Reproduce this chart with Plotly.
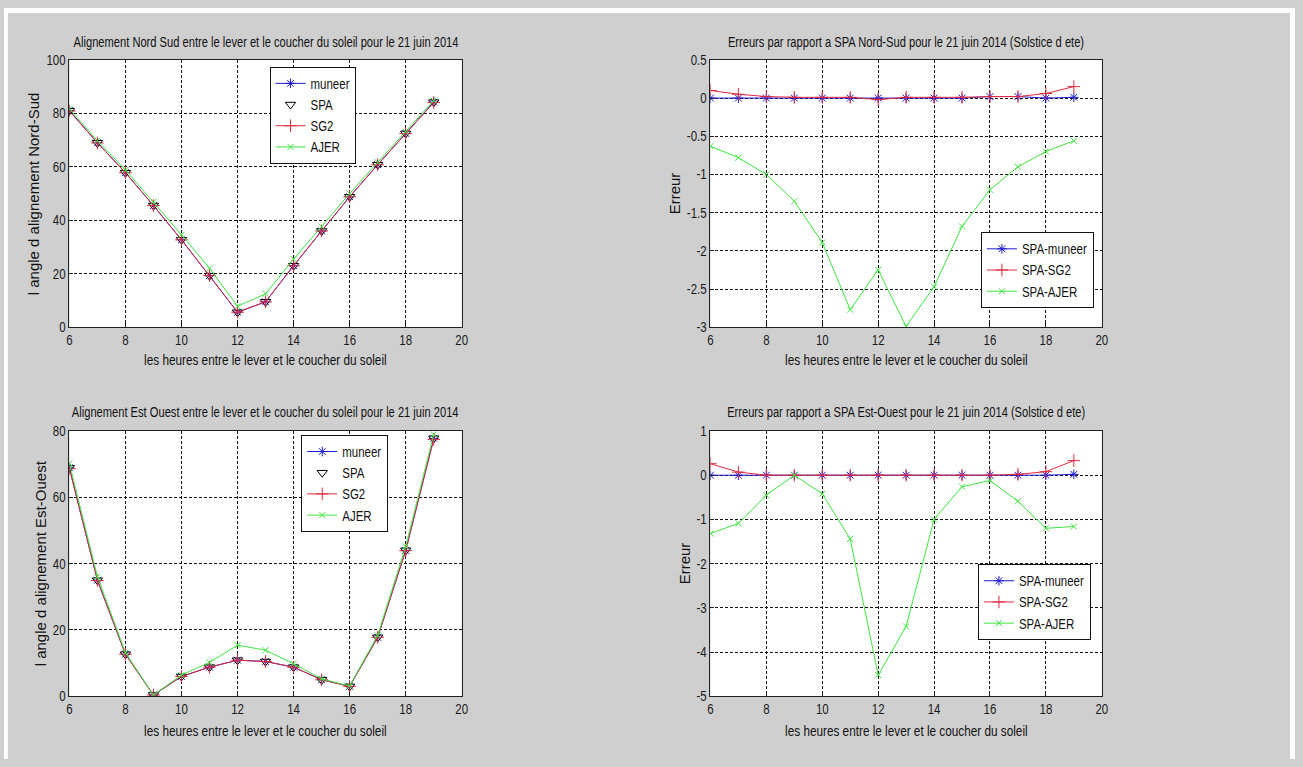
import plotly.graph_objects as go

W, H = 1303, 767

hours = [6, 7, 8, 9, 10, 11, 12, 13, 14, 15, 16, 17, 18, 19]

# --- Nord-Sud alignment (degrees)
ns_spa    = [81.0, 69.0, 57.8, 45.5, 32.7, 19.3, 5.6, 9.5, 23.0, 36.0, 48.8, 60.8, 72.5, 84.2]
ns_muneer = [81.0, 69.0, 57.8, 45.5, 32.7, 19.3, 5.6, 9.5, 23.0, 36.0, 48.8, 60.8, 72.5, 84.2]
ns_sg2    = [80.9, 68.95, 57.78, 45.49, 32.69, 19.29, 5.62, 9.49, 22.99, 35.99, 48.78, 60.78, 72.44, 84.05]
ns_ajer   = [81.63, 69.78, 58.8, 46.85, 34.59, 22.07, 7.85, 12.49, 25.47, 37.68, 50.0, 61.7, 73.2, 84.76]

# --- Errors Nord-Sud
ns_err_muneer = [0.0, 0.0, 0.0, 0.0, 0.0, 0.0, 0.0, 0.0, 0.0, 0.0, 0.02, 0.02, 0.0, 0.01]
ns_err_sg2    = [0.10, 0.05, 0.02, 0.01, 0.01, 0.01, -0.02, 0.01, 0.01, 0.01, 0.02, 0.02, 0.06, 0.15]
ns_err_ajer   = [-0.63, -0.78, -1.0, -1.35, -1.89, -2.77, -2.25, -2.99, -2.47, -1.68, -1.2, -0.9, -0.7, -0.56]

# --- Est-Ouest alignment (degrees)
eo_spa    = [68.9, 35.0, 12.7, 0.4, 6.0, 8.8, 10.9, 10.5, 8.8, 5.0, 3.0, 17.8, 44.0, 77.8]
eo_muneer = [68.9, 35.0, 12.7, 0.4, 6.0, 8.8, 10.9, 10.5, 8.8, 5.0, 3.0, 17.8, 44.0, 77.78]
eo_sg2    = [68.64, 34.93, 12.7, 0.4, 6.0, 8.8, 10.9, 10.5, 8.8, 5.0, 3.0, 17.78, 43.92, 77.47]
eo_ajer   = [70.22, 36.09, 13.15, 0.4, 6.42, 10.24, 15.42, 13.92, 9.8, 5.26, 3.12, 18.39, 45.2, 78.96]

# --- Errors Est-Ouest
eo_err_muneer = [0.0, 0.0, 0.0, 0.0, 0.0, 0.0, 0.0, 0.0, 0.0, 0.0, 0.0, 0.0, 0.0, 0.02]
eo_err_sg2    = [0.26, 0.07, 0.0, 0.0, 0.0, 0.0, 0.0, 0.0, 0.0, 0.0, 0.0, 0.02, 0.08, 0.33]
eo_err_ajer   = [-1.32, -1.09, -0.45, 0.0, -0.42, -1.44, -4.52, -3.42, -1.0, -0.26, -0.12, -0.59, -1.2, -1.16]

x_ticks = [6, 8, 10, 12, 14, 16, 18, 20]
y1_ticks = [0, 20, 40, 60, 80, 100]
y2_ticks = [-3, -2.5, -2, -1.5, -1, -0.5, 0, 0.5]
y2_text = ["-3", "-2.5", "-2", "-1.5", "-1", "-0.5", "0", "0.5"]
y3_ticks = [0, 20, 40, 60, 80]
y4_ticks = [-5, -4, -3, -2, -1, 0, 1]
y4_text = ["-5", "-4", "-3", "-2", "-1", "0", "1"]

titles = [
    "Alignement Nord Sud entre le lever et le coucher du soleil pour le 21 juin 2014",
    "Erreurs par rapport a SPA Nord-Sud pour le 21 juin 2014 (Solstice d ete)",
    "Alignement Est Ouest entre le lever et le coucher du soleil pour le 21 juin 2014",
    "Erreurs par rapport a SPA Est-Ouest pour le 21 juin 2014 (Solstice d ete)",
]
xlabel = "les heures entre le lever et le coucher du soleil"
ylabels = ["l angle d alignement Nord-Sud", "Erreur", "l angle d alignement Est-Ouest", "Erreur"]

BLUE = "#1c1cd0"
RED = "#e02a40"
GREEN = "#40e440"
FONT = "Liberation Sans, Arial, sans-serif"

def px(x):
    return x / W

def py(y):
    return 1 - y / H

# axis rectangles in pixels: (left, right, top, bottom)
boxes = [(66, 462, 53, 326), (713, 1108, 53, 326), (66, 462, 432, 703), (713, 1108, 432, 703)]

fig = go.Figure()

def line_tr(x, y, name, color, symbol, size, ax, legend, mode="lines+markers"):
    return go.Scatter(
        x=x, y=y, name=name, mode=mode,
        line=dict(color=color, width=1),
        marker=dict(symbol=symbol, size=size, color=color, line=dict(color=color, width=1)),
        xaxis="x" + ax, yaxis="y" + ax, legend=legend,
    )

# panel 1
fig.add_trace(line_tr(hours, ns_muneer, "muneer", BLUE, "asterisk-open", 8, "", "legend"))
fig.add_trace(line_tr(hours, ns_spa, "SPA", "black", "triangle-down-open", 9, "", "legend", mode="markers"))
fig.add_trace(line_tr(hours, ns_sg2, "SG2", RED, "cross-thin-open", 9, "", "legend"))
fig.add_trace(line_tr(hours, ns_ajer, "AJER", GREEN, "x-thin-open", 6, "", "legend"))
# panel 2
fig.add_trace(line_tr(hours, ns_err_muneer, "SPA-muneer", BLUE, "asterisk-open", 8, "2", "legend2"))
fig.add_trace(line_tr(hours, ns_err_sg2, "SPA-SG2", RED, "cross-thin-open", 9, "2", "legend2"))
fig.add_trace(line_tr(hours, ns_err_ajer, "SPA-AJER", GREEN, "x-thin-open", 6, "2", "legend2"))
# panel 3
fig.add_trace(line_tr(hours, eo_muneer, "muneer", BLUE, "asterisk-open", 8, "3", "legend3"))
fig.add_trace(line_tr(hours, eo_spa, "SPA", "black", "triangle-down-open", 9, "3", "legend3", mode="markers"))
fig.add_trace(line_tr(hours, eo_sg2, "SG2", RED, "cross-thin-open", 9, "3", "legend3"))
fig.add_trace(line_tr(hours, eo_ajer, "AJER", GREEN, "x-thin-open", 6, "3", "legend3"))
# panel 4
fig.add_trace(line_tr(hours, eo_err_muneer, "SPA-muneer", BLUE, "asterisk-open", 8, "4", "legend4"))
fig.add_trace(line_tr(hours, eo_err_sg2, "SPA-SG2", RED, "cross-thin-open", 9, "4", "legend4"))
fig.add_trace(line_tr(hours, eo_err_ajer, "SPA-AJER", GREEN, "x-thin-open", 6, "4", "legend4"))

axis_common = dict(
    showline=True, linecolor="#222222", linewidth=1, mirror=True,
    ticks="inside", ticklen=4, tickcolor="#222222",
    showgrid=True, gridcolor="#111111", gridwidth=1, griddash="3px,2px",
    zeroline=False, tickfont=dict(family=FONT, size=14, color="#1a1a1a"),
)

yspecs = [
    ([0, 100], y1_ticks, [str(v) for v in y1_ticks]),
    ([-3, 0.5], y2_ticks, y2_text),
    ([0, 80], y3_ticks, [str(v) for v in y3_ticks]),
    ([-5, 1], y4_ticks, y4_text),
]

layout = dict(
    width=W, height=H, margin=dict(l=0, r=0, t=0, b=0),
    paper_bgcolor="#cfcfcf", plot_bgcolor="white", showlegend=True,
)
for i, (l, r, t, b) in enumerate(boxes):
    sfx = "" if i == 0 else str(i + 1)
    layout["xaxis" + sfx] = dict(
        axis_common, domain=[px(l), px(r)], range=[6, 20],
        tickvals=x_ticks, ticktext=[str(v) for v in x_ticks],
        anchor="y" + sfx, ticklabelstandoff=0,
    )
    rng, tv, tt = yspecs[i]
    layout["yaxis" + sfx] = dict(
        axis_common, domain=[py(b), py(t)], range=rng,
        tickvals=tv, ticktext=tt, anchor="x" + sfx,
    )

legend_pos = [(268, 60), (986, 229), (300, 436), (983, 568)]
for i, (lx, ly) in enumerate(legend_pos):
    key = "legend" if i == 0 else "legend" + str(i + 1)
    layout[key] = dict(
        x=px(lx), y=py(ly), xanchor="left", yanchor="top",
        bgcolor="white", bordercolor="#111111", borderwidth=1,
        font=dict(family=FONT, size=14, color="#111111"),
        itemwidth=30,
    )

fig.update_layout(**layout)

annotations = []
title_y = [35, 35, 413, 413]
xlabel_y = [360, 360, 738, 738]
ylabel_x = [30, 677, 37, 687]
for i, (l, r, t, b) in enumerate(boxes):
    cx = (l + r) / 2
    annotations.append(dict(
        text=titles[i], x=px(cx), y=py(title_y[i]), xref="paper", yref="paper",
        xanchor="center", yanchor="middle", showarrow=False,
        font=dict(family=FONT, size=14, color="#111111"),
    ))
    annotations.append(dict(
        text=xlabel, x=px(cx), y=py(xlabel_y[i]), xref="paper", yref="paper",
        xanchor="center", yanchor="middle", showarrow=False,
        font=dict(family=FONT, size=14, color="#111111"),
    ))
    annotations.append(dict(
        text=ylabels[i], x=px(ylabel_x[i]), y=py((t + b) / 2), xref="paper", yref="paper",
        xanchor="center", yanchor="middle", showarrow=False, textangle=-90,
        font=dict(family=FONT, size=15, color="#111111"),
    ))
fig.update_layout(annotations=annotations)

# thin white borders of the screenshot
shapes = [
    dict(type="rect", xref="paper", yref="paper", x0=0, x1=1, y0=py(5), y1=1,
         fillcolor="white", line=dict(width=0), layer="above"),
    dict(type="rect", xref="paper", yref="paper", x0=0, x1=px(4), y0=0, y1=1,
         fillcolor="white", line=dict(width=0), layer="above"),
    dict(type="rect", xref="paper", yref="paper", x0=px(1298), x1=1, y0=0, y1=1,
         fillcolor="white", line=dict(width=0), layer="above"),
]
fig.update_layout(shapes=shapes)

# The source screenshot is horizontally squeezed: condense horizontal text glyphs
post = """
document.body.style.margin = '0';
document.body.style.overflow = 'hidden';
var gd = document.getElementById('{plot_id}');
function squeezeText() {
  gd.querySelectorAll('text').forEach(function (t) {
    if (t.hasAttribute('data-w0')) { return; }
    var m = t.getCTM();
    if (m && Math.abs(m.b) > 1e-3) { return; }
    var w = t.getComputedTextLength();
    if (w > 0) {
      var k = 0.82;
      var ann = t.closest('.annotation');
      if (ann) {
        var idx = parseInt(ann.getAttribute('data-index') || '0', 10);
        k = (idx % 3 === 1) ? 0.84 : 0.795;
      }
      t.setAttribute('data-w0', w);
      t.setAttribute('textLength', (w * k).toFixed(2));
      t.setAttribute('lengthAdjust', 'spacingAndGlyphs');
    }
  });
}
function fitLegends() {
  gd.querySelectorAll('g.scrollbox').forEach(function (box) {
    var lg = box.parentNode;
    if (!lg) { return; }
    var save = 0;
    box.querySelectorAll('text').forEach(function (u) {
      var w0 = parseFloat(u.getAttribute('data-w0') || '0');
      save = Math.max(save, w0 * 0.18);
    });
    for (var i = 0; i < lg.children.length; i++) {
      var c = lg.children[i];
      if (c.tagName.toLowerCase() === 'rect' && (c.getAttribute('class') || '').indexOf('bg') >= 0) {
        var cur = parseFloat(c.getAttribute('width'));
        var prevSet = parseFloat(c.getAttribute('data-set') || 'NaN');
        if (isNaN(prevSet) || Math.abs(cur - prevSet) > 0.01) {
          var nw = cur - save;
          c.setAttribute('width', nw.toFixed(2));
          c.setAttribute('data-set', nw.toFixed(2));
        }
      }
    }
  });
}
function fixAll() {
  try { squeezeText(); } catch (e) {}
  try { fitLegends(); } catch (e) {}
}
fixAll();
if (gd.on) { gd.on('plotly_afterplot', function () { fixAll(); }); }
setTimeout(fixAll, 50);
setTimeout(fixAll, 300);
"""
fig.write_html("out.html", post_script=post, config={"displayModeBar": False})
